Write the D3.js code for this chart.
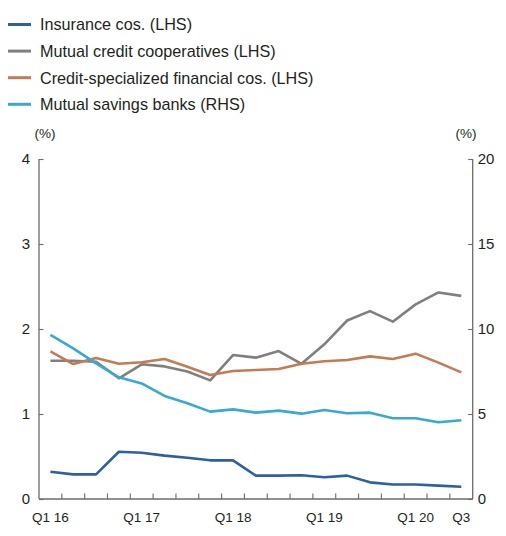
<!DOCTYPE html>
<html><head><meta charset="utf-8">
<script src="https://cdn.jsdelivr.net/npm/d3@7"></script>
<style>body{margin:0;background:#fff}svg{display:block;font-family:"Liberation Sans",Arial,sans-serif}</style>
</head><body><svg id="c" width="506" height="536"></svg>
<script>
const quarters = ["Q1 16","Q2 16","Q3 16","Q4 16","Q1 17","Q2 17","Q3 17","Q4 17","Q1 18","Q2 18","Q3 18","Q4 18","Q1 19","Q2 19","Q3 19","Q4 19","Q1 20","Q2 20","Q3 20"];
const xLabels = {"Q1 16":"Q1 16","Q1 17":"Q1 17","Q1 18":"Q1 18","Q1 19":"Q1 19","Q1 20":"Q1 20","Q3 20":"Q3"};
const insurance = [0.32,0.29,0.29,0.556,0.545,0.51,0.486,0.455,0.455,0.275,0.275,0.28,0.255,0.275,0.196,0.17,0.17,0.157,0.145];
const mutualCredit = [1.627,1.627,1.615,1.42,1.585,1.56,1.50,1.396,1.694,1.663,1.74,1.59,1.82,2.10,2.21,2.086,2.29,2.43,2.39];
const creditSpecialized = [1.737,1.588,1.659,1.592,1.608,1.647,1.557,1.459,1.506,1.518,1.529,1.592,1.62,1.635,1.678,1.647,1.71,1.604,1.49];
const mutualSavings = [9.65,8.86,7.98,7.16,6.8,6.06,5.63,5.14,5.27,5.08,5.2,5.02,5.24,5.04,5.08,4.75,4.75,4.51,4.63];
const leftTicks = [0,1,2,3,4];
const rightTicks = [0,5,10,15,20];
const series = [
  {name:"Insurance cos. (LHS)", values:insurance, axis:"L", color:"#2d5fa3"},
  {name:"Mutual credit cooperatives (LHS)", values:mutualCredit, axis:"L", color:"#7f7f80"},
  {name:"Credit-specialized financial cos. (LHS)", values:creditSpecialized, axis:"L", color:"#c47a52"},
  {name:"Mutual savings banks (RHS)", values:mutualSavings, axis:"R", color:"#37a9d2"}
];

const svg = d3.select("#c");
const L = 39, R = 472.7, T = 159, B = 499;
const x = d3.scaleBand().domain(quarters).range([L, R]).padding(0);
const yL = d3.scaleLinear().domain([0,4]).range([B, T]);
const yR = d3.scaleLinear().domain([0,20]).range([B, T]);
const axisColor = "#6b6b6b", textColor = "#231f20";

// legend
const lg = svg.append("g");
series.forEach((s,i)=>{
  const yy = 24.5 + i*26.6;
  lg.append("line").attr("x1",8).attr("x2",31).attr("y1",yy).attr("y2",yy).attr("stroke",s.color).attr("stroke-width",3);
  lg.append("text").attr("x",40).attr("y",yy).attr("dy","0.36em").attr("font-size",16.2).attr("fill",textColor).text(s.name);
});

// unit labels
svg.append("text").attr("x",45).attr("y",133).attr("dy","0.36em").attr("text-anchor","middle").attr("font-size",13.5).attr("fill",textColor).text("(%)");
svg.append("text").attr("x",466).attr("y",133).attr("dy","0.36em").attr("text-anchor","middle").attr("font-size",13.5).attr("fill",textColor).text("(%)");

// left axis
const gl = svg.append("g").attr("transform",`translate(${L},0)`)
  .call(d3.axisLeft(yL).tickValues(leftTicks).tickSize(-4.5).tickPadding(9).tickFormat(d3.format("d")));
// right axis
const gr = svg.append("g").attr("transform",`translate(${R},0)`)
  .call(d3.axisRight(yR).tickValues(rightTicks).tickSize(-4.5).tickPadding(5).tickFormat(d3.format("d")));
// bottom axis: ticks at inner band boundaries
const bounds = quarters.slice(1);
const gb = svg.append("g").attr("transform",`translate(0,${B})`)
  .call(d3.axisBottom(x).tickValues(bounds).tickSize(-5.5).tickFormat(""));
gb.selectAll(".tick").attr("transform", d=>`translate(${x(d)},0)`);
gb.select(".domain").attr("d",`M${L},0H${R}`);
const gbl = svg.append("g").attr("transform",`translate(0,${B})`)
  .call(d3.axisBottom(x).tickValues(Object.keys(xLabels)).tickSize(0).tickPadding(13).tickFormat(d=>xLabels[d]));
gbl.select(".domain").remove();

[gl,gr,gb,gbl].forEach(g=>{
  g.selectAll(".domain").attr("stroke",axisColor).attr("stroke-width",1.3);
  g.selectAll(".tick line").attr("stroke",axisColor).attr("stroke-width",1.1);
  g.selectAll("text").attr("fill",textColor).attr("font-size",15).attr("font-family","\"Liberation Sans\",Arial,sans-serif");
});
gbl.selectAll("text").attr("font-size",13.5);
gl.select(".domain").attr("d",`M0,${T}V${B}`);
gr.select(".domain").attr("d",`M0,${T}V${B}`);

// lines
series.forEach(s=>{
  const yS = s.axis==="L" ? yL : yR;
  const line = d3.line().x((d,i)=>x(quarters[i])+x.bandwidth()/2).y(d=>yS(d));
  svg.append("path").datum(s.values).attr("d",line).attr("fill","none")
    .attr("stroke",s.color).attr("stroke-width",2.6).attr("stroke-linejoin","round");
});
</script></body></html>
